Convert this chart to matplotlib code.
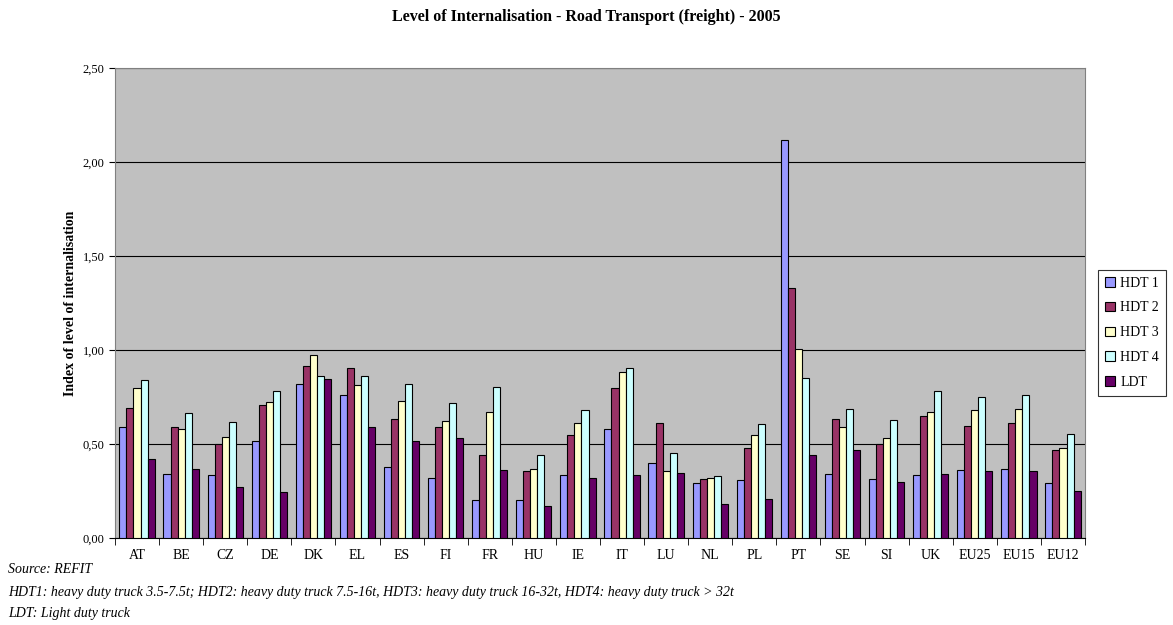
import matplotlib.pyplot as plt
import numpy as np
from matplotlib.ticker import MultipleLocator, FuncFormatter

plt.rcParams['font.family'] = ['Liberation Serif', 'DejaVu Serif']

countries = ["AT", "BE", "CZ", "DE", "DK", "EL", "ES", "FI", "FR", "HU", "IE",
             "IT", "LU", "NL", "PL", "PT", "SE", "SI", "UK", "EU25", "EU15", "EU12"]

hdt1 = [0.59, 0.34, 0.335, 0.515, 0.82, 0.76, 0.38, 0.32, 0.205, 0.205, 0.335,
        0.583, 0.40, 0.294, 0.31, 2.12, 0.34, 0.314, 0.335, 0.36, 0.37, 0.294]
hdt2 = [0.69, 0.59, 0.50, 0.71, 0.915, 0.905, 0.635, 0.59, 0.44, 0.355, 0.55,
        0.80, 0.61, 0.314, 0.48, 1.33, 0.635, 0.50, 0.65, 0.597, 0.61, 0.47]
hdt3 = [0.80, 0.58, 0.54, 0.725, 0.975, 0.815, 0.73, 0.625, 0.67, 0.37, 0.61,
        0.885, 0.355, 0.32, 0.55, 1.007, 0.59, 0.53, 0.67, 0.68, 0.685, 0.477]
hdt4 = [0.84, 0.665, 0.62, 0.785, 0.865, 0.86, 0.82, 0.72, 0.805, 0.44, 0.68,
        0.905, 0.455, 0.328, 0.605, 0.85, 0.685, 0.63, 0.78, 0.75, 0.76, 0.556]
ldt = [0.42, 0.37, 0.27, 0.245, 0.845, 0.59, 0.515, 0.53, 0.36, 0.17, 0.32,
       0.335, 0.347, 0.18, 0.21, 0.44, 0.47, 0.30, 0.34, 0.355, 0.355, 0.253]

series = [("HDT 1", hdt1, "#9999FF"), ("HDT 2", hdt2, "#993366"),
          ("HDT 3", hdt3, "#FFFFCC"), ("HDT 4", hdt4, "#CCFFFF"),
          ("LDT", ldt, "#660066")]

fig = plt.figure(figsize=(11.73, 6.25), dpi=100)
ax = fig.add_axes([0.098, 0.139, 0.827, 0.752])
ax.set_facecolor("#C0C0C0")

x = np.arange(len(countries))
w = 0.16
for i, (name, vals, col) in enumerate(series):
    ax.bar(x + (i - 2) * w, vals, w, color=col, edgecolor="black", linewidth=0.8,
           label=name, zorder=3)

ax.set_xlim(-0.5, len(countries) - 0.5)
ax.set_ylim(0, 2.5)
ax.yaxis.set_major_locator(MultipleLocator(0.5))
ax.yaxis.set_major_formatter(FuncFormatter(lambda v, p: f"{v:.2f}".replace(".", ",")))
ax.grid(axis="y", color="black", linewidth=0.8, zorder=1)

ax.set_xticks(x)
ax.set_xticklabels(countries, fontsize=10)
ax.set_xticks(np.arange(-0.5, len(countries)), minor=True)
ax.tick_params(axis="x", which="major", length=0, pad=8)
ax.tick_params(axis="x", which="minor", length=5, direction="out")
ax.tick_params(axis="y", labelsize=9, length=4)

for s in ["top", "right"]:
    ax.spines[s].set_color("#808080")
ax.spines["left"].set_color("#808080")

ax.set_ylabel("Index of level of internalisation", fontsize=10, fontweight="bold", labelpad=4)
fig.suptitle("Level of Internalisation - Road Transport (freight) - 2005",
             fontsize=11.5, fontweight="bold", y=0.985)

leg = ax.legend(loc="center left", bbox_to_anchor=(1.0134, 0.437), fontsize=10,
                frameon=True, fancybox=False, edgecolor="black", borderaxespad=0,
                handlelength=0.7, handleheight=0.7, handletextpad=0.4,
                borderpad=0.5, labelspacing=0.85)
leg.get_frame().set_linewidth(0.8)

fig.text(0.007, 0.083, "Source: REFIT", fontsize=10, style="italic")
fig.text(0.007, 0.047, "HDT1: heavy duty truck 3.5-7.5t; HDT2: heavy duty truck 7.5-16t, "
         "HDT3: heavy duty truck 16-32t, HDT4: heavy duty truck > 32t",
         fontsize=10, style="italic")
fig.text(0.007, 0.013, "LDT: Light duty truck", fontsize=10, style="italic")

fig.savefig("out.png", dpi=100)
